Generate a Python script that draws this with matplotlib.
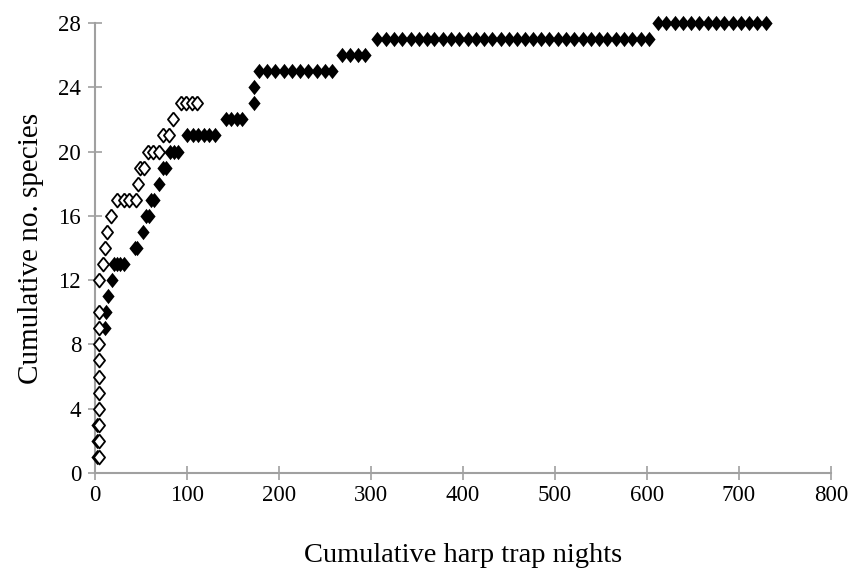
import matplotlib.pyplot as plt

plt.rcParams['font.family'] = 'Liberation Serif'

# Open diamonds: cumulative trap nights and species count
open_nights = [4, 4, 4, 4, 4, 4, 4, 4, 4, 4, 4,
               9, 11, 13, 17,
               24, 31, 37, 44, 47, 49, 53,
               58, 63, 69, 74, 80, 85,
               93, 99, 105, 111]
open_species = [1, 2, 3, 4, 5, 6, 7, 8, 9, 10, 12,
                13, 14, 15, 16,
                17, 17, 17, 17, 18, 19, 19,
                20, 20, 20, 21, 21, 22,
                23, 23, 23, 23]

# Filled diamonds
filled_nights = [2, 2, 2, 11, 12, 14, 18,
                 21, 24, 27, 31, 43, 46, 52, 55, 59, 61, 64, 70, 74, 77,
                 82, 86, 90, 100, 106, 112, 118, 124, 130,
                 142, 148, 154, 160, 173, 173,
                 178, 187, 196, 205, 214, 223, 232, 241, 250, 258,
                 269, 277, 286, 294,
                 307, 316, 325, 334, 343, 352, 361, 369, 378, 387,
                 396, 405, 414, 423, 432, 441, 450, 459, 467, 476,
                 485, 494, 503, 512, 521, 530, 539, 548, 557, 566,
                 575, 584, 593, 602,
                 612, 621, 630, 639, 648, 657, 666, 675, 684, 693,
                 702, 711, 720, 729]
filled_species = [1, 2, 3, 9, 10, 11, 12,
                  13, 13, 13, 13, 14, 14, 15, 16, 16, 17, 17, 18, 19, 19,
                  20, 20, 20, 21, 21, 21, 21, 21, 21,
                  22, 22, 22, 22, 23, 24,
                  25, 25, 25, 25, 25, 25, 25, 25, 25, 25,
                  26, 26, 26, 26,
                  27, 27, 27, 27, 27, 27, 27, 27, 27, 27,
                  27, 27, 27, 27, 27, 27, 27, 27, 27, 27,
                  27, 27, 27, 27, 27, 27, 27, 27, 27, 27,
                  27, 27, 27, 27,
                  28, 28, 28, 28, 28, 28, 28, 28, 28, 28,
                  28, 28, 28, 28]

x_ticks = [0, 100, 200, 300, 400, 500, 600, 700, 800]
y_ticks = [0, 4, 8, 12, 16, 20, 24, 28]

diamond = [(0, 1), (0.8, 0), (0, -1), (-0.8, 0), (0, 1)]

fig = plt.figure(figsize=(8.5, 5.68), dpi=100)
ax = fig.add_axes([0.1118, 0.1673, 0.8658, 0.7922])

ax.plot(filled_nights, filled_species, linestyle='none', marker=diamond,
        markersize=11, color='black', markeredgewidth=0, zorder=3,
        clip_on=False)
ax.plot(open_nights, open_species, linestyle='none', marker=diamond,
        markersize=10, markerfacecolor='white', markeredgecolor='black',
        markeredgewidth=1.3, zorder=4, clip_on=False)

ax.set_xlim(0, 800)
ax.set_ylim(0, 28)
ax.set_xticks(x_ticks)
ax.set_yticks(y_ticks)

for side in ['top', 'right']:
    ax.spines[side].set_visible(False)
for side in ['left', 'bottom']:
    ax.spines[side].set_color('#a0a0a0')
    ax.spines[side].set_linewidth(1.5)
    ax.spines[side].set_zorder(1)

ax.tick_params(direction='inout', length=10, width=1.2, color='#a0a0a0',
               labelsize=16.5, labelcolor='black')
ax.tick_params(axis='x', pad=4)
ax.tick_params(axis='y', pad=5)

ax.set_xlabel('Cumulative harp trap nights', fontsize=20.5, labelpad=26)
ax.set_ylabel('Cumulative no. species', fontsize=21, labelpad=10)

fig.savefig('out.png', dpi=100)
